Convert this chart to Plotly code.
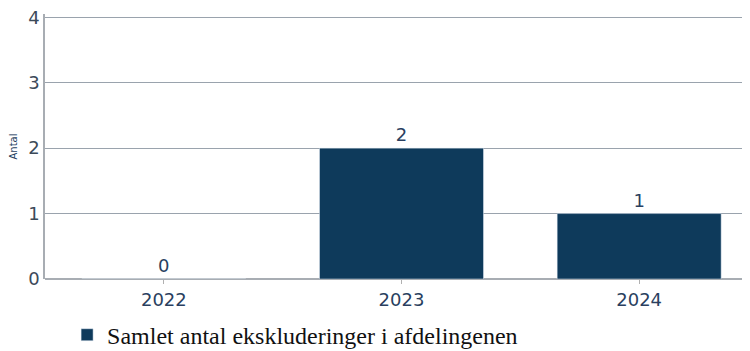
import plotly.graph_objects as go

# data
years = ["2022", "2023", "2024"]
antal = [0, 2, 1]
serie_navn = "Samlet antal ekskluderinger i afdelingenen"

tick_farve = "#2a3f5f"
bar_farve = "#0e3a5b"

fig = go.Figure()
fig.add_trace(go.Bar(
    x=years,
    y=antal,
    name=serie_navn,
    marker=dict(color=bar_farve),
    width=0.69,
    text=antal,
    textposition="outside",
    textfont=dict(family="DejaVu Sans", size=18, color=tick_farve),
    cliponaxis=False,
    showlegend=True,
))

# siden har 8px body-margin, så marginerne er trukket 8px ind
fig.update_layout(
    width=750,
    height=351,
    margin=dict(l=37, r=0, t=6, b=80),
    plot_bgcolor="white",
    paper_bgcolor="white",
    showlegend=True,
    legend=dict(
        orientation="h",
        x=0.031, xanchor="left",
        yref="container", y=0.068, yanchor="middle",
        font=dict(family="Liberation Serif", size=24, color="#111111"),
    ),
)
fig.update_xaxes(
    type="category",
    range=[-0.5, 2.5],
    showline=False,
    showgrid=False,
    automargin=False,
    ticks="outside", ticklen=4, tickcolor="#b0b0b0",
    tickfont=dict(family="DejaVu Sans", size=18, color=tick_farve),
)
fig.update_yaxes(
    range=[0, 4.05],
    tickvals=[0, 1, 2, 3, 4],
    automargin=False,
    ticklabeloverflow="allow",
    showline=True, linecolor="#a8adb3", linewidth=1.5,
    gridcolor="#9aa3ad", gridwidth=1,
    zeroline=True, zerolinecolor="#a8adb3", zerolinewidth=1.5,
    tickfont=dict(family="DejaVu Sans", size=18, color="#3c4a59"),
    title=dict(text="Antal", font=dict(family="DejaVu Sans", size=10, color="#1f3f5f")),
)

fig.write_html("out.html")
